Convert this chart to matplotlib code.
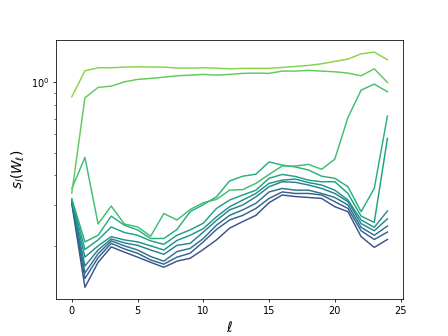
import numpy as np
import matplotlib
matplotlib.use("Agg")
import matplotlib.pyplot as plt

layers = list(range(25))

# series ordered from darkest (bottom) to lightest (top)
s_L7 = [0.303, 0.133, 0.170, 0.198, 0.188, 0.179, 0.170, 0.162, 0.172, 0.177, 0.193, 0.212, 0.238,
        0.254, 0.270, 0.306, 0.330, 0.325, 0.322, 0.319, 0.294, 0.280, 0.219, 0.197, 0.213]
s_L6 = [0.306, 0.145, 0.178, 0.205, 0.194, 0.186, 0.174, 0.167, 0.179, 0.186, 0.208, 0.235, 0.258,
        0.270, 0.289, 0.319, 0.340, 0.335, 0.335, 0.330, 0.309, 0.289, 0.232, 0.213, 0.229]
s_L5 = [0.309, 0.153, 0.185, 0.210, 0.200, 0.192, 0.180, 0.172, 0.189, 0.195, 0.215, 0.245, 0.270,
        0.285, 0.304, 0.340, 0.352, 0.346, 0.346, 0.335, 0.322, 0.299, 0.240, 0.222, 0.243]
s_L4 = [0.311, 0.164, 0.192, 0.214, 0.206, 0.201, 0.192, 0.184, 0.201, 0.205, 0.229, 0.257, 0.285,
        0.299, 0.324, 0.358, 0.376, 0.374, 0.364, 0.352, 0.335, 0.309, 0.249, 0.232, 0.261]
s_L3 = [0.313, 0.179, 0.200, 0.219, 0.212, 0.208, 0.200, 0.192, 0.211, 0.222, 0.237, 0.266, 0.294,
        0.314, 0.335, 0.370, 0.382, 0.386, 0.373, 0.364, 0.346, 0.314, 0.258, 0.240, 0.282]
s_E = [0.316, 0.193, 0.212, 0.241, 0.228, 0.222, 0.210, 0.203, 0.222, 0.234, 0.250, 0.289, 0.314,
       0.330, 0.346, 0.389, 0.404, 0.396, 0.382, 0.376, 0.376, 0.335, 0.268, 0.252, 0.576]
s_D = [0.318, 0.208, 0.222, 0.268, 0.245, 0.234, 0.215, 0.215, 0.235, 0.280, 0.300, 0.324, 0.379,
       0.397, 0.405, 0.457, 0.443, 0.435, 0.422, 0.397, 0.389, 0.358, 0.280, 0.352, 0.718]
s_C = [0.351, 0.478, 0.248, 0.296, 0.248, 0.241, 0.220, 0.275, 0.258, 0.286, 0.306, 0.316, 0.346,
       0.348, 0.370, 0.404, 0.439, 0.439, 0.446, 0.425, 0.470, 0.708, 0.927, 0.983, 0.912]
s_B = [0.336, 0.859, 0.952, 0.964, 1.006, 1.030, 1.040, 1.053, 1.067, 1.074, 1.082, 1.074, 1.082,
       1.093, 1.096, 1.093, 1.118, 1.118, 1.126, 1.118, 1.110, 1.096, 1.067, 1.143, 1.000]
s_A = [0.868, 1.121, 1.155, 1.155, 1.163, 1.166, 1.163, 1.163, 1.151, 1.151, 1.155, 1.151, 1.143,
       1.148, 1.148, 1.148, 1.159, 1.170, 1.182, 1.201, 1.230, 1.258, 1.325, 1.348, 1.250]

series = [s_L7, s_L6, s_L5, s_L4, s_L3, s_E, s_D, s_C, s_B, s_A]
colors = plt.cm.viridis(np.linspace(0.25, 0.82, len(series)))

fig, ax = plt.subplots(figsize=(6.4, 4.8), dpi=70)
for s, c in zip(series, colors):
    ax.plot(layers, s, color=c, linewidth=1.5)
ax.set_yscale("log")
ax.set_xlabel(r"$\ell$", fontsize=14)
ax.set_ylabel(r"$s_l(W_\ell)$", fontsize=14)
fig.savefig("out.png", dpi=70)
